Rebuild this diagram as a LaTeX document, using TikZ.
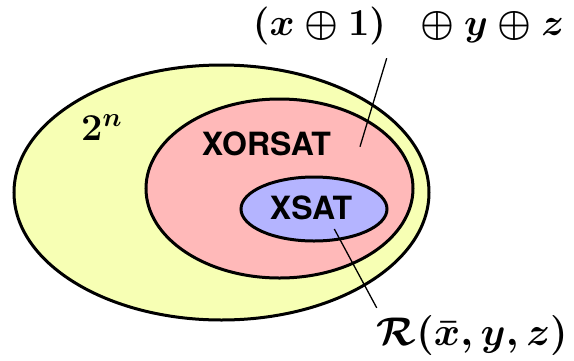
\RequirePackage{fix-cm}
\documentclass[tikz,border=0pt]{standalone}
\usepackage{amsmath}
\usepackage{fontspec}
\setsansfont{TeX Gyre Heros}
\definecolor{setyellow}{RGB}{247,255,180}
\definecolor{setpink}{RGB}{255,185,185}
\definecolor{setblue}{RGB}{180,180,255}

\begin{document}
\begin{tikzpicture}[x=1pt,y=-1pt,
  region/.style={draw=black,line width=3pt},
  lead/.style={line width=1.3pt},
  setname/.style={inner sep=0pt,font=\fontsize{32}{34}\sffamily\bfseries},
  formula/.style={inner sep=0pt,font=\fontsize{38}{40}\selectfont\boldmath}]
\useasboundingbox (0,0) rectangle (574,360);
\filldraw[region,fill=setyellow] (221.5,192.5) ellipse [x radius=207.5,y radius=127.5];
\filldraw[region,fill=setpink] (279.5,188.5) ellipse [x radius=133.5,y radius=89.5];
\filldraw[region,fill=setblue] (314,209) ellipse [x radius=73,y radius=32];
\node[formula,anchor=base west] (pow) at (81,140) {$2^n$};
\node[setname] (xorsat) at (266.5,143.5) {XORSAT};
\node[setname] (xsat) at (311,207.5) {XSAT};
\node[formula,anchor=base] (eqtop) at (408.5,35) {$(x\oplus 1)\hspace{0.65em}\oplus y\oplus z$};
\node[formula,font=\fontsize{40}{42}\selectfont\boldmath,anchor=base] (eqbot) at (472.3,345) {$\mathcal{R}(\bar{x},y,z)$};
\coordinate (xorpin) at (360,146.7);
\coordinate (xsatpin) at (334.3,229);
\draw[lead] ([xshift=-21.8pt,yshift=-13.5pt]eqtop.south) -- (xorpin);
\draw[lead] (xsatpin) -- ([yshift=7pt]eqbot.north west);
\end{tikzpicture}
\end{document}
